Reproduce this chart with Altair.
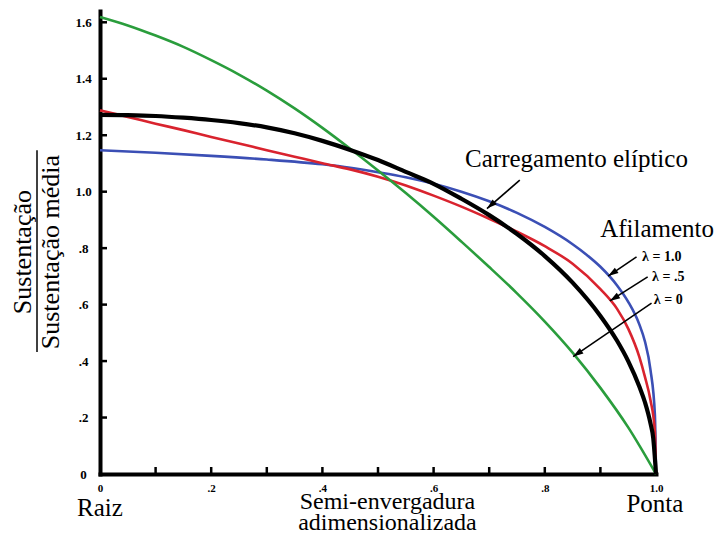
import math
import altair as alt
import pandas as pd

# ---------------- data ----------------
# elliptic loading (black)
x_ell = [0, .05, .1, .15, .2, .25, .3, .35, .4, .45, .5, .55, .6, .65, .7, .75, .8, .85, .9, .93, .95, .97, .98, .99, .995, 1.0]
y_ell = [1.272, 1.271, 1.268, 1.262, 1.254, 1.243, 1.228, 1.207, 1.180, 1.148, 1.112, 1.070, 1.028, 0.975, 0.917, 0.850,
         0.772, 0.678, 0.560, 0.472, 0.400, 0.310, 0.255, 0.180, 0.127, 0.0]
# taper ratio 0 (green)
x_l0 = [0, .05, .1, .15, .2, .25, .3, .35, .4, .45, .5, .55, .6, .65, .7, .75, .8, .85, .9, .95, 1.0]
y_l0 = [1.619, 1.589, 1.553, 1.513, 1.466, 1.415, 1.358, 1.295, 1.226, 1.152, 1.075, 0.995, 0.911, 0.823, 0.733,
        0.640, 0.540, 0.430, 0.305, 0.165, 0.0]
# taper ratio 0.5 (red)
x_l05 = [0, .05, .1, .15, .2, .25, .3, .35, .4, .45, .5, .55, .6, .65, .7, .75, .8, .85, .9, .93, .95, .97, .98, .99, .998, 1.0]
y_l05 = [1.288, 1.265, 1.241, 1.218, 1.194, 1.171, 1.147, 1.124, 1.101, 1.079, 1.053, 1.022, 0.986, 0.947, 0.904, 0.858,
         0.807, 0.745, 0.655, 0.585, 0.515, 0.415, 0.345, 0.262, 0.150, 0.0]
# taper ratio 1.0 (blue)
x_l1 = [0, .1, .2, .3, .4, .45, .5, .55, .6, .65, .7, .75, .8, .85, .875, .9, .93, .95, .97, .98, .99, .998, 1.0]
y_l1 = [1.147, 1.138, 1.127, 1.114, 1.097, 1.085, 1.069, 1.051, 1.028, 1.000, 0.966, 0.925, 0.875, 0.814, 0.777, 0.734,
        0.668, 0.610, 0.530, 0.470, 0.370, 0.210, 0.0]

series_names = ["λ = 1.0", "λ = .5", "λ = 0"]
series_colors = ["#3b4fb5", "#d9232e", "#2a9d3c"]

x_tick_vals = [0, 0.2, 0.4, 0.6, 0.8, 1.0]
x_minor_ticks = [0.1, 0.2, 0.3, 0.4, 0.5, 0.6, 0.7, 0.8, 0.9]
y_tick_vals = [0, 0.2, 0.4, 0.6, 0.8, 1.0, 1.2, 1.4, 1.6]
y_minor_ticks = [0.2, 0.4, 0.6, 0.8, 1.0, 1.2, 1.4, 1.6]

# annotations (data coordinates)
big_text = ["Carregamento elíptico", "Afilamento", "Raiz", "Ponta"]
big_x = [0.857, 1.002, 0.0, 0.998]
big_y = [1.088, 0.840, -0.149, -0.136]

xtitle_text = ["Semi-envergadura", "adimensionalizada"]
xtitle_x = [0.517, 0.517]
xtitle_y = [-0.124, -0.1984]

lam_text = ["λ = 1.0", "λ = .5", "λ = 0"]
lam_x = [0.975, 0.993, 0.996]
lam_y = [0.768, 0.697, 0.616]

arr_x0 = [0.755, 0.965, 0.985, 0.992]
arr_y0 = [1.041, 0.769, 0.698, 0.605]
arr_x1 = [0.696, 0.914, 0.917, 0.851]
arr_y1 = [0.940, 0.701, 0.613, 0.416]

ytitle_num = "Sustentação"
ytitle_den = "Sustentação média"

# ---------------- layout ----------------
W, H = 556, 463
XD = [0, 1.0]
YD = [0, 1.64]
PX_X = W / (XD[1] - XD[0])
PX_Y = H / (YD[1] - YD[0])

xs = alt.Scale(domain=XD, nice=False, zero=False)
ys = alt.Scale(domain=YD, nice=False, zero=False)

FONT = "Liberation Serif"
LBL = "datum.value == 0 ? '0' : (datum.value >= 1 ? format(datum.value, '.1f') : replace(format(datum.value, '.1f'), '0.', '.'))"

x_axis = alt.Axis(values=x_tick_vals, title=None, grid=False, ticks=False, tickSize=0,
                  domainColor="black", domainWidth=4, domainCap="square",
                  labelFont=FONT, labelFontWeight="bold", labelFontSize=11, labelColor="black",
                  labelPadding=8, labelFlush=False, labelExpr=LBL)
y_axis = alt.Axis(values=y_tick_vals, title=None, grid=False, ticks=False, tickSize=0,
                  domainColor="black", domainWidth=4, domainCap="square",
                  labelFont=FONT, labelFontWeight="bold", labelFontSize=13, labelColor="black",
                  labelPadding=17, labelAlign="center", labelFlush=False, labelExpr=LBL)


def X(f="x"):
    return alt.X(f"{f}:Q", scale=xs, axis=x_axis)


def Y(f="y"):
    return alt.Y(f"{f}:Q", scale=ys, axis=y_axis)


frames = []
for name, xv, yv in zip(series_names, [x_l1, x_l05, x_l0], [y_l1, y_l05, y_l0]):
    frames.append(pd.DataFrame({"x": xv, "y": yv, "s": name}))
df_lines = pd.concat(frames, ignore_index=True)
df_ell = pd.DataFrame({"x": x_ell, "y": y_ell})

colored = alt.Chart(df_lines).mark_line(strokeWidth=2.6, interpolate="monotone", clip=False).encode(
    x=X(), y=Y(),
    color=alt.Color("s:N", scale=alt.Scale(domain=series_names, range=series_colors), legend=None),
    detail="s:N",
)
ellip = alt.Chart(df_ell).mark_line(strokeWidth=4.2, color="black", interpolate="monotone").encode(x=X(), y=Y())

# inward tick marks
tick_len_px = 7
df_xt = pd.DataFrame({"x": x_minor_ticks, "y": [0] * len(x_minor_ticks),
                      "y2": [tick_len_px / PX_Y] * len(x_minor_ticks)})
xticks = alt.Chart(df_xt).mark_rule(color="black", strokeWidth=2.5).encode(x=X(), y=Y(), y2="y2:Q")
df_yt = pd.DataFrame({"y": y_minor_ticks, "x": [0] * len(y_minor_ticks),
                      "x2": [tick_len_px / PX_X] * len(y_minor_ticks)})
yticks = alt.Chart(df_yt).mark_rule(color="black", strokeWidth=2.5).encode(x=X(), x2="x2:Q", y=Y())

# arrows
ang = []
for a, b, c, d in zip(arr_x0, arr_y0, arr_x1, arr_y1):
    dx = (c - a) * PX_X
    dy = -(d - b) * PX_Y
    ang.append((math.degrees(math.atan2(dx, -dy)) + 360) % 360)
df_arr = pd.DataFrame({"x": arr_x0, "y": arr_y0, "x2": arr_x1, "y2": arr_y1, "ang": ang})
arr_lines = alt.Chart(df_arr).mark_rule(color="black", strokeWidth=1.6).encode(x=X(), y=Y(), x2="x2:Q", y2="y2:Q")
arr_heads = alt.Chart(df_arr).mark_point(shape="M0,0L0.32,1L-0.32,1Z", filled=True, size=420, color="black",
                                         opacity=1, strokeWidth=0).encode(
    x=X("x2"), y=Y("y2"), angle=alt.Angle("ang:Q", scale=None))

# texts
df_big = pd.DataFrame({"x": big_x, "y": big_y, "t": big_text})
big = alt.Chart(df_big).mark_text(font=FONT, fontSize=25, color="black", align="center",
                                  baseline="alphabetic").encode(x=X(), y=Y(), text="t:N")
df_xt2 = pd.DataFrame({"x": xtitle_x, "y": xtitle_y, "t": xtitle_text})
xtitle = alt.Chart(df_xt2).mark_text(font=FONT, fontSize=24, color="black", align="center",
                                     baseline="alphabetic").encode(x=X(), y=Y(), text="t:N")
df_lam = pd.DataFrame({"x": lam_x, "y": lam_y, "t": lam_text})
lam = alt.Chart(df_lam).mark_text(font=FONT, fontSize=14, fontWeight="bold", color="black", align="left",
                                  baseline="middle").encode(x=X(), y=Y(), text="t:N")

# y-axis title as a fraction
frac_x = [(31 - 100) / PX_X, (59 - 100) / PX_X]
frac_y = [0.786, 0.786]
df_frac = pd.DataFrame({"x": frac_x, "y": frac_y, "t": [ytitle_num, ytitle_den]})
frac_txt = alt.Chart(df_frac).mark_text(font=FONT, fontSize=26, color="black", align="center",
                                        baseline="alphabetic", angle=270).encode(x=X(), y=Y(), text="t:N")
df_bar = pd.DataFrame({"x": [(37 - 100) / PX_X], "y": [0.432], "y2": [1.147]})
frac_bar = alt.Chart(df_bar).mark_rule(color="black", strokeWidth=1.5).encode(x=X(), y=Y(), y2="y2:Q")

chart = alt.layer(
    colored, ellip, xticks, yticks, arr_lines, arr_heads, big, xtitle, lam, frac_txt, frac_bar
).properties(
    width=W, height=H,
    autosize=alt.AutoSizeParams(type="none"),
    padding={"left": 100, "top": 11, "right": 718 - 100 - W, "bottom": 535 - 11 - H},
    background="white",
).configure_view(strokeWidth=0)

chart.save("out.html", embed_options={"renderer": "svg", "actions": False})
